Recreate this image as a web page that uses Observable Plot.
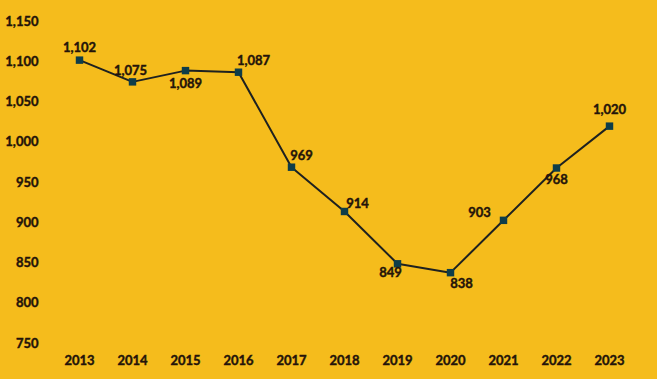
<!DOCTYPE html>
<html>
<head>
<meta charset="utf-8">
<script src="https://cdn.jsdelivr.net/npm/d3@7"></script>
<script src="https://cdn.jsdelivr.net/npm/@observablehq/plot@0.6"></script>
<style>
  html, body { margin: 0; padding: 0; background: #F5BC1C; }
  #chart { width: 657px; height: 379px; }
  #chart text { stroke: #24140A; stroke-width: 0.4px; }
</style>
</head>
<body>
<div id="chart"></div>
<script>
// ---- Data ----
const years = [2013, 2014, 2015, 2016, 2017, 2018, 2019, 2020, 2021, 2022, 2023];
const values = [1102, 1075, 1089, 1087, 969, 914, 849, 838, 903, 968, 1020];
const yTicks = [750, 800, 850, 900, 950, 1000, 1050, 1100, 1150];

const data = years.map((year, i) => ({year, value: values[i]}));

// ---- Label placement (rendering choice) ----
const placement = {
  2013: [0, -12], 2014: [-2, -11], 2015: [0, 13], 2016: [15, -11],
  2017: [10, -11], 2018: [13, -8], 2019: [-7, 9], 2020: [11, 11],
  2021: [-24, -8], 2022: [0, 12], 2023: [0, -16]
};

const fmt = d3.format(",");
const font = "Lato, 'Open Sans', sans-serif";
const textColor = "#24140A";

const chart = Plot.plot({
  width: 657,
  height: 379,
  marginLeft: 42,
  marginRight: 46,
  marginTop: 21,
  marginBottom: 36,
  style: {background: "#F5BC1C", fontFamily: font, fontSize: "13px", fontWeight: "bold", color: textColor},
  x: {type: "point", domain: years, range: [77, 611], padding: 0, label: null},
  y: {domain: [750, 1150], label: null},
  marks: [
    Plot.axisY({ticks: yTicks, tickSize: 0, tickPadding: 4, tickFormat: fmt, fill: textColor, fontWeight: "bold", fontSize: 13}),
    Plot.axisX({tickSize: 0, tickPadding: 12, tickFormat: d => String(d), fill: textColor, fontWeight: "bold", fontSize: 13}),
    Plot.line(data, {x: "year", y: "value", stroke: "#1E2120", strokeWidth: 2}),
    Plot.dot(data, {x: "year", y: "value", symbol: "square", r: 4.2, fill: "#0E3D49", stroke: "none"}),
    ...data.map(d => Plot.text([d], {
      x: "year", y: "value", text: e => fmt(e.value),
      dx: placement[d.year][0], dy: placement[d.year][1],
      fill: textColor, fontWeight: "bold", fontSize: 13
    }))
  ]
});

document.getElementById("chart").appendChild(chart);
</script>
</body>
</html>
